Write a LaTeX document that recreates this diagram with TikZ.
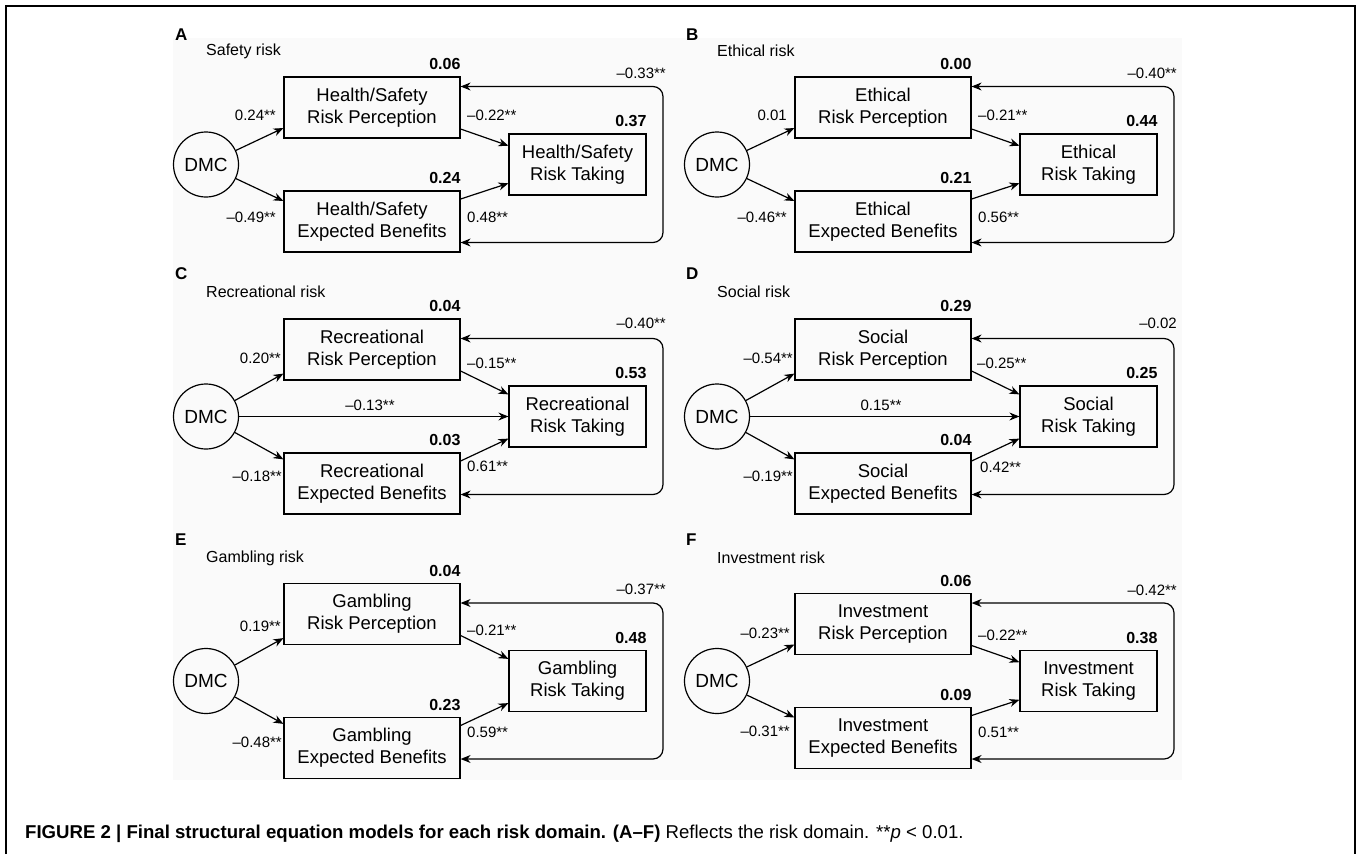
\documentclass[tikz,border=0pt]{standalone}
\usepackage{fontspec}
\setmainfont{Liberation Sans}
\usetikzlibrary{arrows.meta,calc}
\tikzset{
  box/.style={draw, line width=1.2pt, minimum width=176pt, minimum height=61pt, inner sep=0pt, align=center, font=\fontsize{18.5}{22}\selectfont},
  rtbox/.style={box, minimum width=137pt},
  dmcnode/.style={draw, circle, line width=1.2pt, minimum size=65pt, inner sep=0pt, font=\fontsize{19}{22}\selectfont},
  arr/.style={line width=1.2pt, -{Stealth[length=10pt,width=8pt]}},
  dbl/.style={line width=1.2pt, {Stealth[length=10pt,width=8pt]}-{Stealth[length=10pt,width=8pt]}, rounded corners=10pt},
  plab/.style={inner sep=0pt, font=\fontsize{15}{18}\selectfont},
  rsq/.style={inner sep=0pt, anchor=east, font=\fontsize{16}{18}\selectfont\bfseries},
  letter/.style={inner sep=0pt, anchor=west, font=\fontsize{17}{20}\selectfont\bfseries},
  ttl/.style={inner sep=0pt, anchor=west, font=\fontsize{16}{18}\selectfont},
  frameline/.style={line width=2pt},
}
% #1 prefix, #2 cx, #3 cy, #4 half spacing, #5 domain
\newcommand\sempanel[5]{%
  \node[dmcnode] (#1dmc) at (#2,#3) {DMC};
  \node[box] (#1rp) at (#2+166,#3-#4) {#5\\Risk Perception};
  \node[box] (#1eb) at (#2+166,#3+#4) {#5\\Expected Benefits};
  \node[rtbox] (#1rt) at (#2+371.5,#3) {#5\\Risk Taking};
  \coordinate (#1lt) at (#2+457,#3-78);
  \coordinate (#1lb) at (#2+457,#3+78);
  \draw[arr] (#1dmc) -- ($(#1rp.west)+(0,#4*0.36)$);
  \draw[arr] (#1dmc) -- ($(#1eb.west)+(0,-#4*0.36)$);
  \draw[arr] ($(#1rp.east)+(0,21.5)$) -- ($(#1rt.west)+(0,-#4*0.33)$);
  \draw[arr] ($(#1eb.east)+(0,-22.5)$) -- ($(#1rt.west)+(0,#4*0.33)$);
  \draw[dbl] (#1rp.east |- #1lt) -- (#1lt) -- (#1lb) -- (#1eb.east |- #1lb);
}
% #1 prefix, #2 rp, #3 eb, #4 rt
\newcommand\semrsq[4]{%
  \node[rsq] (#1rrp) at ($(#1rp.north east)+(0,-12)$) {#2};
  \node[rsq] (#1reb) at ($(#1eb.north east)+(0,-12)$) {#3};
  \node[rsq] (#1rrt) at ($(#1rt.north east)+(0,-12)$) {#4};
}
\begin{document}
\begin{tikzpicture}[x=1pt,y=-1pt]
\useasboundingbox (0,0) rectangle (1357,854);
\fill[black!2] (173,38) rectangle (1182,780);
\draw[frameline] (6,854) -- (6,6) -- (1355,6) -- (1355,854);

% ---------- A ----------
\node[letter] (Alet) at (175,35) {A};
\node[ttl] (Atit) at (206,51) {Safety risk};
\sempanel{A}{206}{164.5}{57}{Health/Safety}
\semrsq{A}{0.06}{0.24}{0.37}
\node[plab, anchor=east] (Ala) at (276,115) {0.24**};
\node[plab, anchor=east] (Alb) at (276,217) {–0.49**};
\node[plab, anchor=west] (Alc) at (467,115) {–0.22**};
\node[plab, anchor=west] (Ald) at (467,217) {0.48**};
\node[plab, anchor=east] (Ale) at (666,73) {–0.33**};

% ---------- B ----------
\node[letter] (Blet) at (686,35) {B};
\node[ttl] (Btit) at (717,51) {Ethical risk};
\sempanel{B}{717}{164.5}{57}{Ethical}
\semrsq{B}{0.00}{0.21}{0.44}
\node[plab, anchor=east] (Bla) at (787,115) {0.01};
\node[plab, anchor=east] (Blb) at (787,217) {–0.46**};
\node[plab, anchor=west] (Blc) at (978,115) {–0.21**};
\node[plab, anchor=west] (Bld) at (978,217) {0.56**};
\node[plab, anchor=east] (Ble) at (1177,73) {–0.40**};

% ---------- C ----------
\node[letter] (Clet) at (175,274) {C};
\node[ttl] (Ctit) at (206,292) {Recreational risk};
\sempanel{C}{206}{416.5}{67}{Recreational}
\semrsq{C}{0.04}{0.03}{0.53}
\draw[arr] (Cdmc) -- (Crt);
\node[plab, anchor=east] (Cla) at (281,358) {0.20**};
\node[plab, anchor=east] (Clb) at (282,476) {–0.18**};
\node[plab, anchor=west] (Clc) at (467,363) {–0.15**};
\node[plab, anchor=west] (Cld) at (467,466) {0.61**};
\node[plab] (Clm) at (370,405) {–0.13**};
\node[plab, anchor=east] (Cle) at (666,323) {–0.40**};

% ---------- D ----------
\node[letter] (Dlet) at (686,274) {D};
\node[ttl] (Dtit) at (717,292) {Social risk};
\sempanel{D}{717}{416.5}{67}{Social}
\semrsq{D}{0.29}{0.04}{0.25}
\draw[arr] (Ddmc) -- (Drt);
\node[plab, anchor=east] (Dla) at (793,358) {–0.54**};
\node[plab, anchor=east] (Dlb) at (793,476) {–0.19**};
\node[plab, anchor=west] (Dlc) at (977,363) {–0.25**};
\node[plab, anchor=west] (Dld) at (980,467) {0.42**};
\node[plab] (Dlm) at (881,405) {0.15**};
\node[plab, anchor=east] (Dle) at (1177,323) {–0.02};

% ---------- E ----------
\node[letter] (Elet) at (175,540) {E};
\node[ttl] (Etit) at (206,558) {Gambling risk};
\sempanel{E}{206}{681}{67}{Gambling}
\semrsq{E}{0.04}{0.23}{0.48}
\node[plab, anchor=east] (Ela) at (281,626) {0.19**};
\node[plab, anchor=east] (Elb) at (282,742) {–0.48**};
\node[plab, anchor=west] (Elc) at (467,630) {–0.21**};
\node[plab, anchor=west] (Eld) at (467,732) {0.59**};
\node[plab, anchor=east] (Ele) at (666,589) {–0.37**};

% ---------- F ----------
\node[letter] (Flet) at (686,540) {F};
\node[ttl] (Ftit) at (717,558) {Investment risk};
\sempanel{F}{717}{681}{57}{Investment}
\semrsq{F}{0.06}{0.09}{0.38}
\node[plab, anchor=east] (Fla) at (790,633) {–0.23**};
\node[plab, anchor=east] (Flb) at (790,731) {–0.31**};
\node[plab, anchor=west] (Flc) at (978,635) {–0.22**};
\node[plab, anchor=west] (Fld) at (978,732) {0.51**};
\node[plab, anchor=east] (Fle) at (1177,590) {–0.42**};

% ---------- caption ----------
\node[inner sep=0pt, anchor=base west, font=\fontsize{18.6}{22}\selectfont] (cap) at (25,838)
  {\textbf{FIGURE 2 | Final structural equation models for each risk domain. (A–F)} Reflects the risk domain. **\textit{p} < 0.01.};
\end{tikzpicture}
\end{document}
